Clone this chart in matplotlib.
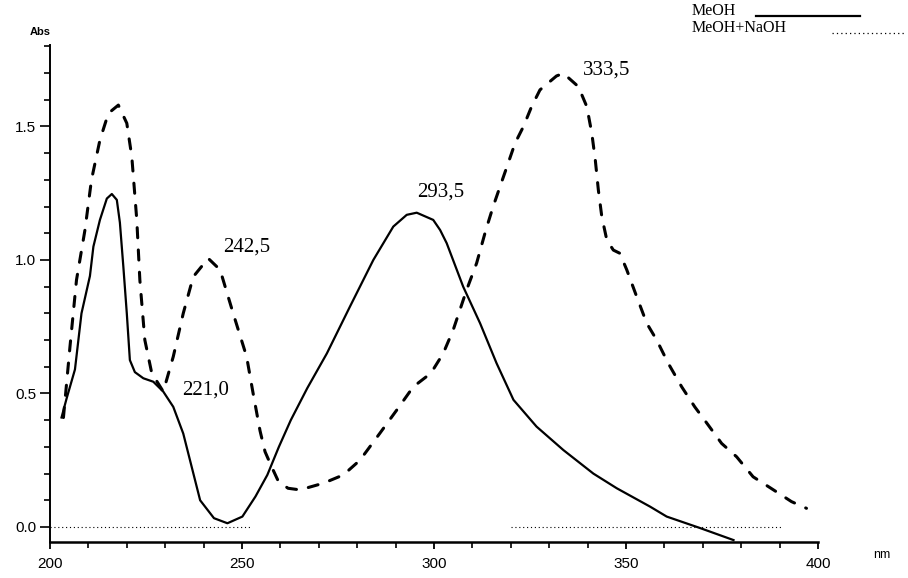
import matplotlib
matplotlib.use("Agg")
import matplotlib.pyplot as plt
from matplotlib.lines import Line2D
from matplotlib.ticker import MultipleLocator

# --- data ---
meoh_nm = [203.0, 204.3, 206.5, 208.2, 210.4, 211.3, 213.0, 214.8, 216.1, 217.4,
           218.2, 219.1, 220.0, 220.8, 222.1, 224.3, 226.9, 229.5, 232.1, 234.7,
           239.1, 242.7, 246.2, 250.1, 253.5, 256.6, 259.6, 262.7, 267.0, 272.1,
           278.1, 284.2, 289.4, 292.9, 295.5, 299.8, 301.6, 303.3, 307.6, 312.0,
           316.3, 320.7, 326.7, 333.7, 341.5, 347.6, 356.3, 360.6, 369.3, 378.0]
meoh_abs = [0.41, 0.48, 0.59, 0.80, 0.94, 1.05, 1.15, 1.23, 1.247, 1.225,
            1.14, 0.975, 0.80, 0.625, 0.58, 0.557, 0.544, 0.507, 0.45, 0.35,
            0.10, 0.033, 0.014, 0.039, 0.114, 0.195, 0.30, 0.40, 0.52, 0.65,
            0.825, 1.0, 1.125, 1.169, 1.177, 1.15, 1.112, 1.063, 0.90, 0.763,
            0.613, 0.476, 0.376, 0.288, 0.20, 0.145, 0.076, 0.039, -0.004, -0.049]

naoh_nm = [203.5, 205.2, 206.9, 209.1, 210.8, 213.0, 215.2, 217.8, 220.0, 221.3,
           222.6, 223.4, 224.7, 226.5, 229.5, 232.1, 234.7, 237.3, 241.2, 244.3,
           247.7, 251.2, 252.9, 254.7, 256.0, 257.7, 259.5, 262.0, 265.1, 271.2,
           276.4, 280.7, 285.9, 290.3, 294.6, 299.2, 302.4, 305.0, 308.5, 311.1,
           313.5, 315.4, 317.2, 319.3, 321.1, 323.3, 325.4, 327.6, 331.9, 333.7,
           337.6, 339.8, 341.1, 342.0, 342.8, 343.7, 345.0, 346.7, 348.4, 350.2,
           352.8, 355.4, 358.0, 361.0, 364.5, 367.9, 371.4, 374.9, 378.8, 383.1,
           388.4, 393.1, 397.0]
naoh_abs = [0.41, 0.675, 0.925, 1.112, 1.30, 1.449, 1.549, 1.58, 1.512, 1.387,
            1.15, 0.925, 0.70, 0.576, 0.507, 0.638, 0.80, 0.937, 1.006, 0.963,
            0.80, 0.638, 0.50, 0.36, 0.282, 0.226, 0.17, 0.145, 0.139, 0.164,
            0.195, 0.25, 0.351, 0.438, 0.525, 0.576, 0.65, 0.738, 0.888, 0.988,
            1.112, 1.20, 1.275, 1.362, 1.437, 1.50, 1.574, 1.637, 1.689, 1.699,
            1.649, 1.574, 1.474, 1.375, 1.262, 1.162, 1.075, 1.037, 1.025, 0.963,
            0.862, 0.763, 0.70, 0.613, 0.525, 0.45, 0.382, 0.313, 0.263, 0.188,
            0.139, 0.095, 0.07]

peak_labels = ["221,0", "242,5", "293,5", "333,5"]
peak_label_x = [234.4, 245.1, 295.6, 338.8]
peak_label_y = [0.513, 1.049, 1.255, 1.712]

baseline_segments = [(200, 252), (320, 391)]

x_major = [200, 250, 300, 350, 400]
y_major = [0.0, 0.5, 1.0, 1.5]
y_labels = ["0.0", "0.5", "1.0", "1.5"]

legend_labels = ["MeOH", "MeOH+NaOH"]

# --- figure ---
W, H = 908, 578
fig = plt.figure(figsize=(W / 100, H / 100), dpi=100)
ax = fig.add_axes([50 / W, (H - 542) / H, (818 - 50) / W, (542 - 45) / H])

ax.plot(meoh_nm, meoh_abs, color="black", lw=1.6, solid_joinstyle="round")
ax.plot(naoh_nm, naoh_abs, color="black", lw=2.2, linestyle=(0, (3.3, 4.0)),
        dash_capstyle="round")

for a, b in baseline_segments:
    ax.plot([a, b], [0, 0], color="black", lw=0.8, linestyle=(0, (1, 2.5)))

for t, x, y in zip(peak_labels, peak_label_x, peak_label_y):
    ax.text(x, y, t, family="Liberation Serif", fontsize=15, ha="left", va="center")

ax.set_xlim(200, 400)
ax.set_ylim(-0.0562, 1.805)

for s in ["top", "right"]:
    ax.spines[s].set_visible(False)
ax.spines["left"].set_linewidth(1.4)
ax.spines["bottom"].set_linewidth(1.8)

ax.set_xticks(x_major)
ax.set_xticklabels([str(v) for v in x_major])
ax.xaxis.set_minor_locator(MultipleLocator(10))
ax.set_yticks(y_major)
ax.set_yticklabels(y_labels)
ax.yaxis.set_minor_locator(MultipleLocator(0.1))

ax.tick_params(axis="x", which="major", direction="out", length=5, width=1.3,
               pad=6, labelsize=11)
ax.tick_params(axis="x", which="minor", direction="out", length=4, width=1.2)
ax.tick_params(axis="y", which="major", direction="out", length=7, width=1.2,
               pad=3, labelsize=11)
ax.tick_params(axis="y", which="minor", direction="out", length=4, width=1.2)
for lab in ax.get_xticklabels() + ax.get_yticklabels():
    lab.set_family("Liberation Sans")

fig.text(30 / W, 1 - 32 / H, "Abs", family="Liberation Sans", fontsize=8,
         fontweight="bold", ha="left", va="center")
fig.text(873 / W, 1 - 555 / H, "nm", family="Liberation Sans", fontsize=9,
         ha="left", va="center")

# legend (drawn as in the original)
fig.text(692 / W, 1 - 11 / H, legend_labels[0], family="Liberation Serif",
         fontsize=11.5, ha="left", va="center")
fig.text(692 / W, 1 - 28 / H, legend_labels[1], family="Liberation Serif",
         fontsize=11.5, ha="left", va="center")
fig.add_artist(Line2D([756 / W, 860 / W], [1 - 16 / H, 1 - 16 / H],
                      color="black", lw=1.6, transform=fig.transFigure))
fig.add_artist(Line2D([832 / W, 905 / W], [1 - 33 / H, 1 - 33 / H],
                      color="black", lw=0.9, linestyle=(0, (1, 2.5)),
                      transform=fig.transFigure))

fig.savefig("out.png", dpi=100)
